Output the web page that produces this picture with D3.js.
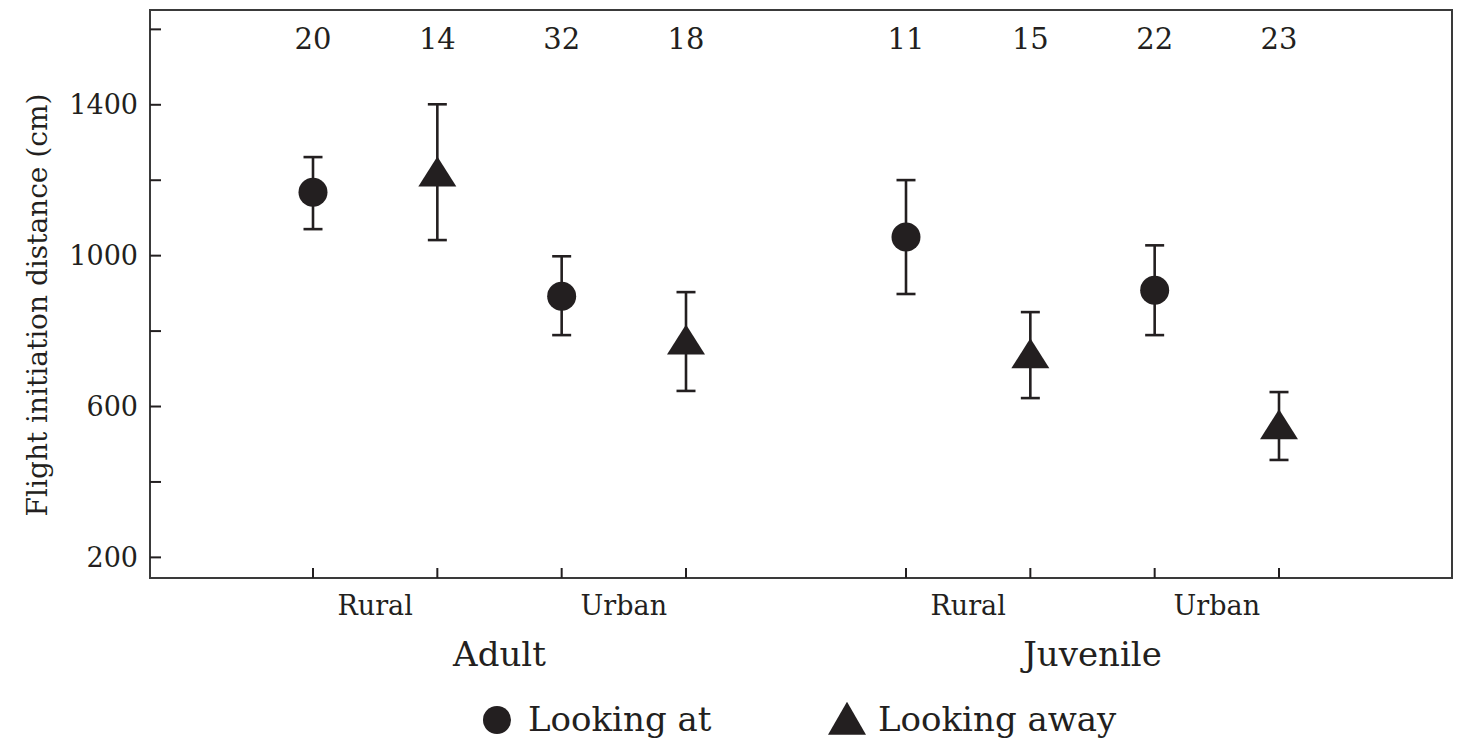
<!DOCTYPE html>
<html>
<head>
<meta charset="utf-8">
<script src="https://cdn.jsdelivr.net/npm/d3@7/dist/d3.min.js"></script>
<style>
  html, body { margin: 0; padding: 0; background: #fff; }
  text { font-family: "DejaVu Serif", "Liberation Serif", serif; fill: #231f20; }
</style>
</head>
<body>
<svg id="chart" width="1458" height="743"></svg>
<script>
// ---- data ----
const groups = ["Adult", "Juvenile"];
const habitats = ["Rural", "Urban"];
const conditions = ["Looking at", "Looking away"];
// order: Adult Rural at, Adult Rural away, Adult Urban at, Adult Urban away, Juvenile ...
const counts = [20, 14, 32, 18, 11, 15, 22, 23];
const means  = [1167, 1220, 891, 775, 1048, 738, 907, 550];
const lower  = [1069, 1040, 788, 640, 897, 621, 788, 457];
const upper  = [1260, 1400, 997, 902, 1199, 849, 1026, 637];
const yTicks = [200, 400, 600, 800, 1000, 1200, 1400, 1600];
const yLabels = [200, 600, 1000, 1400];

(function () {
// build records
const records = [];
let idx = 0;
groups.forEach(g => habitats.forEach(h => conditions.forEach(c => {
  records.push({group: g, habitat: h, cond: c, key: h + "|" + c,
    n: counts[idx], mean: means[idx], lo: lower[idx], hi: upper[idx]});
  idx++;
})));

const svg = d3.select("#chart");
const pL = 150, pR = 1452, pT = 10, pB = 578;
const ink = "#231f20";

const y = d3.scaleLinear().domain([144, 1650]).range([pB, pT]);
const outer = d3.scalePoint().domain(groups).range([313, 906]);
const innerKeys = [];
habitats.forEach(h => conditions.forEach(c => innerKeys.push(h + "|" + c)));
const inner = d3.scalePoint().domain(innerKeys).range([0, 373]);
const x = d => outer(d.group) + inner(d.key);

// frame
svg.append("rect").attr("x", pL).attr("y", pT)
  .attr("width", pR - pL).attr("height", pB - pT)
  .attr("fill", "none").attr("stroke", "#3a3a3a").attr("stroke-width", 2);

// y axis (ticks inward)
const yAxis = d3.axisRight(y).tickValues(yTicks).tickSize(11)
  .tickFormat(() => "");
const gy = svg.append("g").attr("transform", `translate(${pL},0)`).call(yAxis);
gy.select(".domain").remove();
gy.selectAll(".tick line").attr("stroke", ink).attr("stroke-width", 2);
svg.append("g").selectAll("text").data(yLabels).join("text")
  .attr("x", 138).attr("y", d => y(d)).attr("dy", "0.36em")
  .attr("text-anchor", "end").attr("font-size", 27).text(d => d);

// x ticks inward
svg.append("g").selectAll("line").data(records).join("line")
  .attr("x1", d => x(d)).attr("x2", d => x(d))
  .attr("y1", pB).attr("y2", pB - 10)
  .attr("stroke", ink).attr("stroke-width", 2);

// y label
svg.append("text")
  .attr("transform", `translate(47, ${(pT + pB) / 2 + 11}) rotate(-90)`)
  .attr("text-anchor", "middle").attr("font-size", 28)
  .text("Flight initiation distance (cm)");

// counts
svg.append("g").selectAll("text").data(records).join("text")
  .attr("x", d => x(d)).attr("y", 49).attr("text-anchor", "middle")
  .attr("font-size", 29).text(d => d.n);

// habitat labels
const habRecs = [];
groups.forEach(g => habitats.forEach(h => habRecs.push({group: g, habitat: h})));
svg.append("g").selectAll("text").data(habRecs).join("text")
  .attr("x", d => outer(d.group) + (inner(d.habitat + "|" + conditions[0]) + inner(d.habitat + "|" + conditions[1])) / 2)
  .attr("y", 615).attr("text-anchor", "middle").attr("font-size", 27)
  .text(d => d.habitat);

// group labels
svg.append("g").selectAll("text").data(groups).join("text")
  .attr("x", g => outer(g) + (inner.range()[0] + inner.range()[1]) / 2)
  .attr("y", 666).attr("text-anchor", "middle").attr("font-size", 34)
  .text(g => g);

// error bars
const eb = svg.append("g");
eb.selectAll("line.v").data(records).join("line").attr("class", "v")
  .attr("x1", d => x(d)).attr("x2", d => x(d))
  .attr("y1", d => y(d.lo)).attr("y2", d => y(d.hi))
  .attr("stroke", ink).attr("stroke-width", 2.6);
const capW = 9.5;
["lo", "hi"].forEach(k => {
  eb.selectAll("line.c" + k).data(records).join("line").attr("class", "c" + k)
    .attr("x1", d => x(d) - capW).attr("x2", d => x(d) + capW)
    .attr("y1", d => y(d[k])).attr("y2", d => y(d[k]))
    .attr("stroke", ink).attr("stroke-width", 2.6);
});

// markers
const triPath = (w, h) => `M0,${-h * 0.52}L${w / 2},${h * 0.48}L${-w / 2},${h * 0.48}Z`;
const mk = svg.append("g");
mk.selectAll("circle").data(records.filter(d => d.cond === conditions[0])).join("circle")
  .attr("cx", d => x(d)).attr("cy", d => y(d.mean)).attr("r", 14.5).attr("fill", ink);
mk.selectAll("path").data(records.filter(d => d.cond === conditions[1])).join("path")
  .attr("transform", d => `translate(${x(d)},${y(d.mean)})`)
  .attr("d", triPath(38, 30)).attr("fill", ink);

// legend
const lg = svg.append("g");
lg.append("circle").attr("cx", 497).attr("cy", 720).attr("r", 14).attr("fill", ink);
lg.append("text").attr("x", 528).attr("y", 731).attr("font-size", 34).text(conditions[0]);
lg.append("path").attr("transform", "translate(847,719)").attr("d", triPath(38, 33)).attr("fill", ink);
lg.append("text").attr("x", 878).attr("y", 731).attr("font-size", 34).text(conditions[1]);
})();
</script>
</body>
</html>
